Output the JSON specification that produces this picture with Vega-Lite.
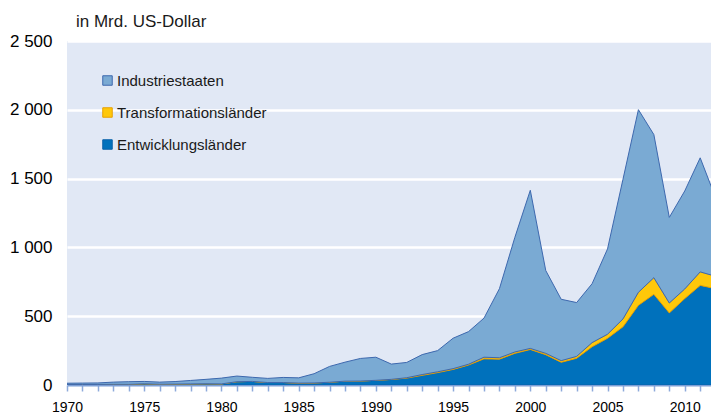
{
  "$schema": "https://vega.github.io/schema/vega-lite/v6.json",
  "width": 644,
  "height": 344,
  "autosize": {"type": "none"},
  "padding": {"left": 67, "top": 41, "right": 0, "bottom": 29},
  "background": "white",
  "config": {
    "font": "Liberation Sans",
    "view": {"fill": "#e1e8f5", "stroke": null}
  },
  "title": {
    "text": "in Mrd. US-Dollar",
    "anchor": "start",
    "frame": "group",
    "dx": 9,
    "offset": 1,
    "fontSize": 17,
    "fontWeight": "normal",
    "color": "#1a1a1a"
  },
  "data": {
    "values": [
      {"jahr": 1970, "gruppe": "Entwicklungsländer", "rang": 1, "wert": 4},
      {"jahr": 1970, "gruppe": "Transformationsländer", "rang": 2, "wert": 0},
      {"jahr": 1970, "gruppe": "Industriestaaten", "rang": 3, "wert": 9},
      {"jahr": 1971, "gruppe": "Entwicklungsländer", "rang": 1, "wert": 4},
      {"jahr": 1971, "gruppe": "Transformationsländer", "rang": 2, "wert": 0},
      {"jahr": 1971, "gruppe": "Industriestaaten", "rang": 3, "wert": 10},
      {"jahr": 1972, "gruppe": "Entwicklungsländer", "rang": 1, "wert": 4},
      {"jahr": 1972, "gruppe": "Transformationsländer", "rang": 2, "wert": 0},
      {"jahr": 1972, "gruppe": "Industriestaaten", "rang": 3, "wert": 11},
      {"jahr": 1973, "gruppe": "Entwicklungsländer", "rang": 1, "wert": 5},
      {"jahr": 1973, "gruppe": "Transformationsländer", "rang": 2, "wert": 0},
      {"jahr": 1973, "gruppe": "Industriestaaten", "rang": 3, "wert": 16},
      {"jahr": 1974, "gruppe": "Entwicklungsländer", "rang": 1, "wert": 5},
      {"jahr": 1974, "gruppe": "Transformationsländer", "rang": 2, "wert": 0},
      {"jahr": 1974, "gruppe": "Industriestaaten", "rang": 3, "wert": 19},
      {"jahr": 1975, "gruppe": "Entwicklungsländer", "rang": 1, "wert": 9},
      {"jahr": 1975, "gruppe": "Transformationsländer", "rang": 2, "wert": 0},
      {"jahr": 1975, "gruppe": "Industriestaaten", "rang": 3, "wert": 17},
      {"jahr": 1976, "gruppe": "Entwicklungsländer", "rang": 1, "wert": 6},
      {"jahr": 1976, "gruppe": "Transformationsländer", "rang": 2, "wert": 0},
      {"jahr": 1976, "gruppe": "Industriestaaten", "rang": 3, "wert": 15},
      {"jahr": 1977, "gruppe": "Entwicklungsländer", "rang": 1, "wert": 7},
      {"jahr": 1977, "gruppe": "Transformationsländer", "rang": 2, "wert": 0},
      {"jahr": 1977, "gruppe": "Industriestaaten", "rang": 3, "wert": 18},
      {"jahr": 1978, "gruppe": "Entwicklungsländer", "rang": 1, "wert": 8},
      {"jahr": 1978, "gruppe": "Transformationsländer", "rang": 2, "wert": 0},
      {"jahr": 1978, "gruppe": "Industriestaaten", "rang": 3, "wert": 25},
      {"jahr": 1979, "gruppe": "Entwicklungsländer", "rang": 1, "wert": 9},
      {"jahr": 1979, "gruppe": "Transformationsländer", "rang": 2, "wert": 0},
      {"jahr": 1979, "gruppe": "Industriestaaten", "rang": 3, "wert": 32},
      {"jahr": 1980, "gruppe": "Entwicklungsländer", "rang": 1, "wert": 8},
      {"jahr": 1980, "gruppe": "Transformationsländer", "rang": 2, "wert": 0},
      {"jahr": 1980, "gruppe": "Industriestaaten", "rang": 3, "wert": 42},
      {"jahr": 1981, "gruppe": "Entwicklungsländer", "rang": 1, "wert": 24},
      {"jahr": 1981, "gruppe": "Transformationsländer", "rang": 2, "wert": 0},
      {"jahr": 1981, "gruppe": "Industriestaaten", "rang": 3, "wert": 41},
      {"jahr": 1982, "gruppe": "Entwicklungsländer", "rang": 1, "wert": 26},
      {"jahr": 1982, "gruppe": "Transformationsländer", "rang": 2, "wert": 0},
      {"jahr": 1982, "gruppe": "Industriestaaten", "rang": 3, "wert": 30},
      {"jahr": 1983, "gruppe": "Entwicklungsländer", "rang": 1, "wert": 18},
      {"jahr": 1983, "gruppe": "Transformationsländer", "rang": 2, "wert": 0},
      {"jahr": 1983, "gruppe": "Industriestaaten", "rang": 3, "wert": 30},
      {"jahr": 1984, "gruppe": "Entwicklungsländer", "rang": 1, "wert": 18},
      {"jahr": 1984, "gruppe": "Transformationsländer", "rang": 2, "wert": 0},
      {"jahr": 1984, "gruppe": "Industriestaaten", "rang": 3, "wert": 37},
      {"jahr": 1985, "gruppe": "Entwicklungsländer", "rang": 1, "wert": 14},
      {"jahr": 1985, "gruppe": "Transformationsländer", "rang": 2, "wert": 0},
      {"jahr": 1985, "gruppe": "Industriestaaten", "rang": 3, "wert": 38},
      {"jahr": 1986, "gruppe": "Entwicklungsländer", "rang": 1, "wert": 15},
      {"jahr": 1986, "gruppe": "Transformationsländer", "rang": 2, "wert": 0},
      {"jahr": 1986, "gruppe": "Industriestaaten", "rang": 3, "wert": 67},
      {"jahr": 1987, "gruppe": "Entwicklungsländer", "rang": 1, "wert": 20},
      {"jahr": 1987, "gruppe": "Transformationsländer", "rang": 2, "wert": 0},
      {"jahr": 1987, "gruppe": "Industriestaaten", "rang": 3, "wert": 115},
      {"jahr": 1988, "gruppe": "Entwicklungsländer", "rang": 1, "wert": 28},
      {"jahr": 1988, "gruppe": "Transformationsländer", "rang": 2, "wert": 0},
      {"jahr": 1988, "gruppe": "Industriestaaten", "rang": 3, "wert": 138},
      {"jahr": 1989, "gruppe": "Entwicklungsländer", "rang": 1, "wert": 29},
      {"jahr": 1989, "gruppe": "Transformationsländer", "rang": 2, "wert": 0},
      {"jahr": 1989, "gruppe": "Industriestaaten", "rang": 3, "wert": 164},
      {"jahr": 1990, "gruppe": "Entwicklungsländer", "rang": 1, "wert": 34},
      {"jahr": 1990, "gruppe": "Transformationsländer", "rang": 2, "wert": 0},
      {"jahr": 1990, "gruppe": "Industriestaaten", "rang": 3, "wert": 168},
      {"jahr": 1991, "gruppe": "Entwicklungsländer", "rang": 1, "wert": 40},
      {"jahr": 1991, "gruppe": "Transformationsländer", "rang": 2, "wert": 1},
      {"jahr": 1991, "gruppe": "Industriestaaten", "rang": 3, "wert": 111},
      {"jahr": 1992, "gruppe": "Entwicklungsländer", "rang": 1, "wert": 50},
      {"jahr": 1992, "gruppe": "Transformationsländer", "rang": 2, "wert": 3},
      {"jahr": 1992, "gruppe": "Industriestaaten", "rang": 3, "wert": 111},
      {"jahr": 1993, "gruppe": "Entwicklungsländer", "rang": 1, "wert": 70},
      {"jahr": 1993, "gruppe": "Transformationsländer", "rang": 2, "wert": 6},
      {"jahr": 1993, "gruppe": "Industriestaaten", "rang": 3, "wert": 145},
      {"jahr": 1994, "gruppe": "Entwicklungsländer", "rang": 1, "wert": 90},
      {"jahr": 1994, "gruppe": "Transformationsländer", "rang": 2, "wert": 6},
      {"jahr": 1994, "gruppe": "Industriestaaten", "rang": 3, "wert": 154},
      {"jahr": 1995, "gruppe": "Entwicklungsländer", "rang": 1, "wert": 113},
      {"jahr": 1995, "gruppe": "Transformationsländer", "rang": 2, "wert": 6},
      {"jahr": 1995, "gruppe": "Industriestaaten", "rang": 3, "wert": 221},
      {"jahr": 1996, "gruppe": "Entwicklungsländer", "rang": 1, "wert": 145},
      {"jahr": 1996, "gruppe": "Transformationsländer", "rang": 2, "wert": 6},
      {"jahr": 1996, "gruppe": "Industriestaaten", "rang": 3, "wert": 237},
      {"jahr": 1997, "gruppe": "Entwicklungsländer", "rang": 1, "wert": 190},
      {"jahr": 1997, "gruppe": "Transformationsländer", "rang": 2, "wert": 12},
      {"jahr": 1997, "gruppe": "Industriestaaten", "rang": 3, "wert": 284},
      {"jahr": 1998, "gruppe": "Entwicklungsländer", "rang": 1, "wert": 188},
      {"jahr": 1998, "gruppe": "Transformationsländer", "rang": 2, "wert": 10},
      {"jahr": 1998, "gruppe": "Industriestaaten", "rang": 3, "wert": 502},
      {"jahr": 1999, "gruppe": "Entwicklungsländer", "rang": 1, "wert": 230},
      {"jahr": 1999, "gruppe": "Transformationsländer", "rang": 2, "wert": 10},
      {"jahr": 1999, "gruppe": "Industriestaaten", "rang": 3, "wert": 833},
      {"jahr": 2000, "gruppe": "Entwicklungsländer", "rang": 1, "wert": 258},
      {"jahr": 2000, "gruppe": "Transformationsländer", "rang": 2, "wert": 8},
      {"jahr": 2000, "gruppe": "Industriestaaten", "rang": 3, "wert": 1149},
      {"jahr": 2001, "gruppe": "Entwicklungsländer", "rang": 1, "wert": 220},
      {"jahr": 2001, "gruppe": "Transformationsländer", "rang": 2, "wert": 10},
      {"jahr": 2001, "gruppe": "Industriestaaten", "rang": 3, "wert": 602},
      {"jahr": 2002, "gruppe": "Entwicklungsländer", "rang": 1, "wert": 165},
      {"jahr": 2002, "gruppe": "Transformationsländer", "rang": 2, "wert": 12},
      {"jahr": 2002, "gruppe": "Industriestaaten", "rang": 3, "wert": 446},
      {"jahr": 2003, "gruppe": "Entwicklungsländer", "rang": 1, "wert": 194},
      {"jahr": 2003, "gruppe": "Transformationsländer", "rang": 2, "wert": 14},
      {"jahr": 2003, "gruppe": "Industriestaaten", "rang": 3, "wert": 391},
      {"jahr": 2004, "gruppe": "Entwicklungsländer", "rang": 1, "wert": 278},
      {"jahr": 2004, "gruppe": "Transformationsländer", "rang": 2, "wert": 30},
      {"jahr": 2004, "gruppe": "Industriestaaten", "rang": 3, "wert": 428},
      {"jahr": 2005, "gruppe": "Entwicklungsländer", "rang": 1, "wert": 339},
      {"jahr": 2005, "gruppe": "Transformationsländer", "rang": 2, "wert": 30},
      {"jahr": 2005, "gruppe": "Industriestaaten", "rang": 3, "wert": 620},
      {"jahr": 2006, "gruppe": "Entwicklungsländer", "rang": 1, "wert": 423},
      {"jahr": 2006, "gruppe": "Transformationsländer", "rang": 2, "wert": 57},
      {"jahr": 2006, "gruppe": "Industriestaaten", "rang": 3, "wert": 1015},
      {"jahr": 2007, "gruppe": "Entwicklungsländer", "rang": 1, "wert": 579},
      {"jahr": 2007, "gruppe": "Transformationsländer", "rang": 2, "wert": 95},
      {"jahr": 2007, "gruppe": "Industriestaaten", "rang": 3, "wert": 1327},
      {"jahr": 2008, "gruppe": "Entwicklungsländer", "rang": 1, "wert": 659},
      {"jahr": 2008, "gruppe": "Transformationsländer", "rang": 2, "wert": 121},
      {"jahr": 2008, "gruppe": "Industriestaaten", "rang": 3, "wert": 1040},
      {"jahr": 2009, "gruppe": "Entwicklungsländer", "rang": 1, "wert": 524},
      {"jahr": 2009, "gruppe": "Transformationsländer", "rang": 2, "wert": 72},
      {"jahr": 2009, "gruppe": "Industriestaaten", "rang": 3, "wert": 622},
      {"jahr": 2010, "gruppe": "Entwicklungsländer", "rang": 1, "wert": 628},
      {"jahr": 2010, "gruppe": "Transformationsländer", "rang": 2, "wert": 70},
      {"jahr": 2010, "gruppe": "Industriestaaten", "rang": 3, "wert": 712},
      {"jahr": 2011, "gruppe": "Entwicklungsländer", "rang": 1, "wert": 724},
      {"jahr": 2011, "gruppe": "Transformationsländer", "rang": 2, "wert": 98},
      {"jahr": 2011, "gruppe": "Industriestaaten", "rang": 3, "wert": 829},
      {"jahr": 2012, "gruppe": "Entwicklungsländer", "rang": 1, "wert": 700},
      {"jahr": 2012, "gruppe": "Transformationsländer", "rang": 2, "wert": 90},
      {"jahr": 2012, "gruppe": "Industriestaaten", "rang": 3, "wert": 570}
    ]
  },
  "mark": {"type": "area", "clip": true, "strokeWidth": 1, "fillOpacity": 1},
  "encoding": {
    "x": {
      "field": "jahr",
      "type": "quantitative",
      "scale": {"domain": [1970, 2011.7], "nice": false, "zero": false},
      "axis": {
        "title": null,
        "values": [1970,1971,1972,1973,1974,1975,1976,1977,1978,1979,1980,1981,1982,1983,1984,1985,1986,1987,1988,1989,1990,1991,1992,1993,1994,1995,1996,1997,1998,1999,2000,2001,2002,2003,2004,2005,2006,2007,2008,2009,2010,2011],
        "labelExpr": "datum.value % 5 === 0 ? format(datum.value, 'd') : ''",
        "grid": false,
        "domainColor": "#7d9fd6",
        "domainWidth": 2,
        "tickColor": "#8eaadb",
        "tickWidth": 1.5,
        "tickSize": 6,
        "labelFontSize": 14,
        "labelColor": "#000000",
        "labelPadding": 9,
        "labelFlush": false,
        "labelOverlap": false
      }
    },
    "y": {
      "field": "wert",
      "type": "quantitative",
      "stack": "zero",
      "scale": {"domain": [0, 2500], "nice": false},
      "axis": {
        "title": null,
        "values": [0, 500, 1000, 1500, 2000, 2500],
        "labelExpr": "replace(format(datum.value, ','), ',', ' ')",
        "domain": false,
        "ticks": false,
        "grid": true,
        "gridColor": "#ffffff",
        "gridWidth": 2.5,
        "labelFontSize": 17,
        "labelColor": "#000000",
        "labelPadding": 15
      }
    },
    "order": {"field": "rang", "type": "quantitative"},
    "fill": {
      "field": "gruppe",
      "type": "nominal",
      "scale": {
        "domain": ["Industriestaaten", "Transformationsländer", "Entwicklungsländer"],
        "range": ["#7aaad3", "#ffc80a", "#0071bc"]
      },
      "legend": {
        "title": null,
        "orient": "none",
        "legendX": 33,
        "legendY": 32,
        "symbolType": "square",
        "symbolSize": 90,
        "symbolStrokeWidth": 1,
        "labelFontSize": 15,
        "labelColor": "#1a1a1a",
        "labelOffset": 2,
        "rowPadding": 16,
        "padding": 0
      }
    },
    "stroke": {
      "field": "gruppe",
      "type": "nominal",
      "scale": {
        "domain": ["Industriestaaten", "Transformationsländer", "Entwicklungsländer"],
        "range": ["#3d68ae", "#e8a000", "#0a62aa"]
      },
      "legend": {
        "title": null,
        "orient": "none",
        "legendX": 33,
        "legendY": 32,
        "symbolType": "square",
        "symbolSize": 90,
        "symbolStrokeWidth": 1,
        "labelFontSize": 15,
        "labelColor": "#1a1a1a",
        "labelOffset": 2,
        "rowPadding": 16,
        "padding": 0
      }
    }
  }
}
